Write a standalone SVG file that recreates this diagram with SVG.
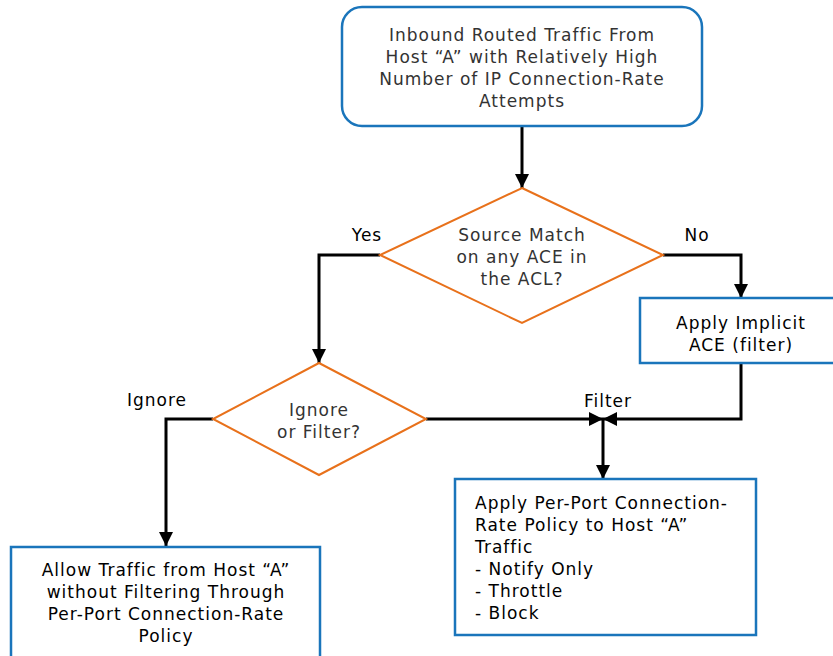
<svg xmlns="http://www.w3.org/2000/svg" width="833" height="656" viewBox="0 0 833 656">
<defs>
<style>
.box{fill:#fff;stroke:#1a75bb;stroke-width:2.5}
.dia{fill:#fff;stroke:#e8711b;stroke-width:2}
.t{font-family:"DejaVu Sans",Verdana,sans-serif;font-size:17px;letter-spacing:1px;fill:#000}
.tg{font-family:"DejaVu Sans",Verdana,sans-serif;font-size:17px;letter-spacing:1px;fill:#333}
.c{text-anchor:middle}
.ln{fill:none;stroke:#000;stroke-width:3;marker-end:url(#ah)}
</style>
<marker id="ah" markerUnits="userSpaceOnUse" markerWidth="14" markerHeight="14" viewBox="0 0 14 14" refX="14" refY="7" orient="auto">
<path d="M0,0 L14,7 L0,14 Z" fill="#000"/>
</marker>
</defs>
<rect width="833" height="656" fill="#fff"/>
<g id="connectors">
<path class="ln" d="M522,126 V188"/>
<path class="ln" d="M380,255 H319 V363"/>
<path class="ln" d="M663,255 H741 V298"/>
<path class="ln" d="M741,363 V419 H603"/>
<path class="ln" d="M426,419 H603"/>
<path class="ln" d="M603,419 V479"/>
<path class="ln" d="M213,419 H166 V546"/>
<text class="t c" x="367" y="241">Yes</text>
<text class="t c" x="697" y="241">No</text>
<text class="t c" x="157" y="406">Ignore</text>
<text class="t c" x="608" y="407">Filter</text>
</g>
<g id="start">
<rect class="box" x="342" y="7" width="360" height="119" rx="20"/>
<text class="tg c" x="522" y="41">Inbound Routed Traffic From</text>
<text class="tg c" x="522" y="63">Host “A” with Relatively High</text>
<text class="tg c" x="522" y="85">Number of IP Connection-Rate</text>
<text class="tg c" x="522" y="107">Attempts</text>
</g>
<g id="match">
<polygon class="dia" points="522,188 663,255 522,323 380,255"/>
<text class="tg c" x="522" y="241">Source Match</text>
<text class="tg c" x="522" y="263">on any ACE in</text>
<text class="tg c" x="522" y="285">the ACL?</text>
</g>
<g id="implicit">
<rect class="box" x="640" y="298" width="203" height="65"/>
<text class="t c" x="741" y="329">Apply Implicit</text>
<text class="t c" x="741" y="351">ACE (filter)</text>
</g>
<g id="ignoreFilter">
<polygon class="dia" points="319,363 426,419 319,475 213,419"/>
<text class="tg c" x="319" y="416">Ignore</text>
<text class="tg c" x="319" y="438">or Filter?</text>
</g>
<g id="apply">
<rect class="box" x="455" y="479" width="301" height="156"/>
<text class="t" x="475" y="509">Apply Per-Port Connection-</text>
<text class="t" x="475" y="531">Rate Policy to Host “A”</text>
<text class="t" x="475" y="553">Traffic</text>
<text class="t" x="475" y="575">- Notify Only</text>
<text class="t" x="475" y="597">- Throttle</text>
<text class="t" x="475" y="619">- Block</text>
</g>
<g id="allow">
<rect class="box" x="11" y="547" width="309" height="120"/>
<text class="t c" x="166" y="576">Allow Traffic from Host “A”</text>
<text class="t c" x="166" y="598">without Filtering Through</text>
<text class="t c" x="166" y="620">Per-Port Connection-Rate</text>
<text class="t c" x="166" y="642">Policy</text>
</g>
</svg>
